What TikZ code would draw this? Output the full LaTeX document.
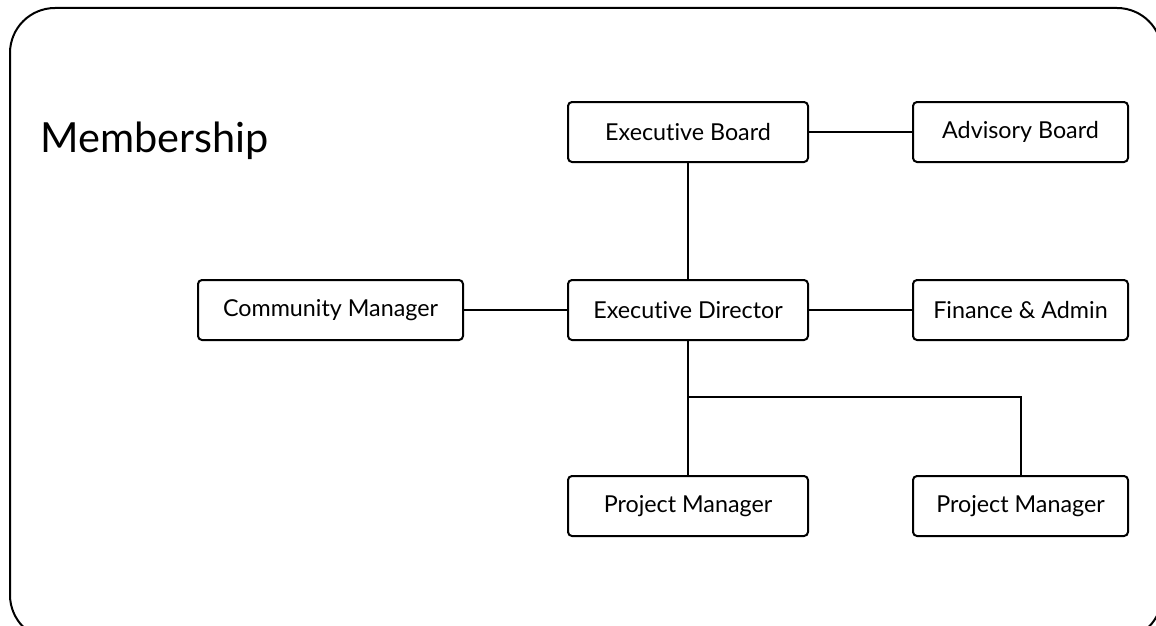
\documentclass[tikz,border=0pt]{standalone}
\usepackage{fontspec}
\setmainfont{Lato}[Ligatures=NoCommon]
\begin{document}
\begin{tikzpicture}[x=1pt,y=-1pt]

  \tikzstyle{role}=[shape=rectangle,rounded corners=4pt,draw,line width=2pt,minimum height=60pt,font=\fontsize{23.3}{28}\selectfont]

  \tikzstyle{wide}=[role, minimum width=240pt]

  \tikzstyle{narrow}=[role, minimum width=215pt]

  \tikzstyle{link}=[draw,line width=2pt]

\useasboundingbox (0,0) rectangle (1156,626);

%% frame
\draw[line width=2pt, rounded corners=45pt] (10,8) rectangle (1162,640);

\node (M)[anchor=base west,inner sep=0pt,font=\fontsize{41.5}{48}\selectfont] at (40,152) {Membership};

%% nodes or vertices

\node (EB)[wide] at (688,132) {Executive Board};

\node (AB)[narrow] at (1020.5,132) {Advisory Board};

\node (CM)[role, minimum width=265pt] at (330.5,310) {Community Manager};

\node (ED)[wide] at (688,310) {Executive Director};

\node (FA)[narrow] at (1020.5,310) {Finance \& Admin};

\node (P1)[wide] at (688,506) {Project Manager};

\node (P2)[narrow] at (1020.5,506) {Project Manager};

\coordinate (split) at (688,397);

%% edges or lines

\draw[link] (EB) -- (AB);
\draw[link] (EB) -- (ED);
\draw[link] (CM) -- (ED);
\draw[link] (ED) -- (FA);
\draw[link] (ED) -- (P1);
\draw[link] (split) -| (P2);

\end{tikzpicture}
\end{document}
